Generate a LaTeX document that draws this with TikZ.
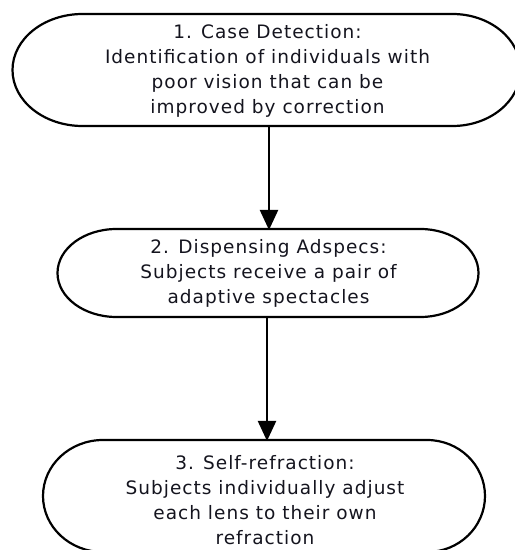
\documentclass[tikz,border=0pt]{standalone}
\usepackage{fontspec}
\setmainfont{DejaVu Sans}[LetterSpace=5.5]
\usetikzlibrary{arrows.meta}
\definecolor{txt}{RGB}{20,20,30}
\tikzset{
  stagebox/.style={draw=none, align=center, text=txt, inner sep=0pt,
    font=\fontsize{18.5pt}{25pt}\selectfont},
  outline/.style={draw=black, line width=2.2pt, line join=round},
  flowarrow/.style={draw=black, line width=2.2pt,
    -{Triangle[length=20pt,width=18pt]}, shorten >=-1pt}
}
\begin{document}
\begin{tikzpicture}[x=1pt,y=1pt]
\useasboundingbox (0,0) rectangle (515,550);
% stage nodes (text)
\node[stagebox, minimum width=370pt, minimum height=112pt] (s1) at (267.5,479.5)
  {1. Case Detection:\\Identification of individuals with\\poor vision that can be\\improved by correction};
\node[stagebox, minimum width=304pt, minimum height=88pt] (s2) at (268.5,276.5)
  {2. Dispensing Adspecs:\\Subjects receive a pair of\\adaptive spectacles};
\node[stagebox, minimum width=324pt, minimum height=108pt] (s3) at (265,49.5)
  {3. Self-refraction:\\Subjects individually adjust\\each lens to their own\\refraction};
% outlines (flat top/bottom, elliptical ends)
\coordinate (s1top) at (267.5,536);
\coordinate (s1bot) at (267.5,424);
\draw[outline] (82.5,536) -- (452.5,536)
  arc[start angle=90, end angle=-90, x radius=68, y radius=56]
  -- (82.5,424)
  arc[start angle=270, end angle=90, x radius=70, y radius=56] -- cycle;
\coordinate (s2top) at (268.5,321);
\coordinate (s2bot) at (268.5,233);
\draw[outline] (116.5,321) -- (420.5,321)
  arc[start angle=90, end angle=-90, x radius=58, y radius=44]
  -- (116.5,233)
  arc[start angle=270, end angle=90, x radius=59, y radius=44] -- cycle;
\coordinate (s3top) at (267,110);
\draw[outline] (103,110) -- (427,110)
  arc[start angle=90, end angle=-90, x radius=58, y radius=56]
  -- (103,-2)
  arc[start angle=270, end angle=90, x radius=60, y radius=56] -- cycle;
% connectors
\draw[flowarrow] (s1bot -| 269,0) -- (s2top -| 269,0);
\draw[flowarrow] (s2bot -| 267,0) -- (s3top -| 267,0);
\end{tikzpicture}
\end{document}
